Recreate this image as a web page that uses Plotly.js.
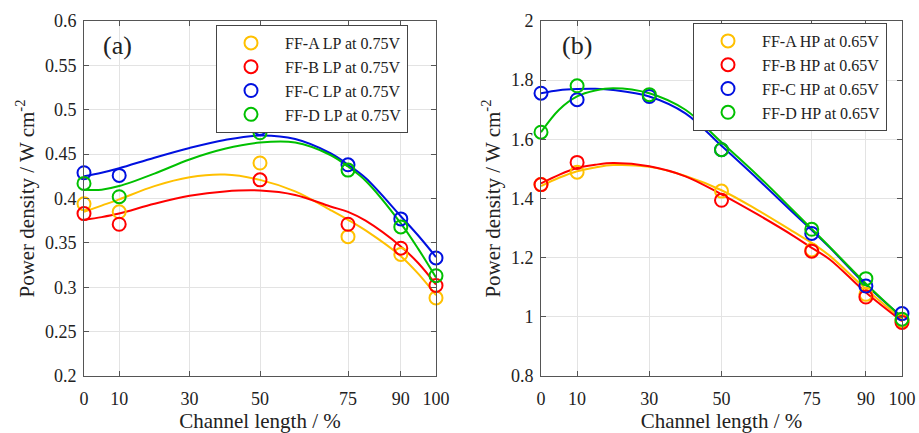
<!DOCTYPE html>
<html>
<head>
<meta charset="utf-8">
<script src="https://cdn.plot.ly/plotly-3.0.1.min.js"></script>
<style>html,body{margin:0;padding:0;background:#fff;}#chart{width:919px;height:433px;}</style>
</head>
<body>
<div id="chart"></div>
<script>
// ---------- data ----------
var xTicks = [0, 10, 30, 50, 75, 90, 100];

// (a) low power at 0.75 V — measured points
var xPtsL = [0, 10, 50, 75, 90, 100];
var aLP = [0.394, 0.385, 0.440, 0.357, 0.337, 0.288];
var bLP = [0.383, 0.371, 0.421, 0.371, 0.344, 0.302];
var cLP = [0.429, 0.426, 0.479, 0.438, 0.377, 0.333];
var dLP = [0.417, 0.402, 0.474, 0.432, 0.368, 0.313];
// (a) fitted curves
var xFitL = [0, 5, 10, 20, 30, 40, 50, 60, 70, 75, 80, 90, 95, 100];
var aFitL = [0.385, 0.392, 0.399, 0.414, 0.424, 0.427, 0.421, 0.408, 0.387, 0.376, 0.364, 0.335, 0.315, 0.291];
var bFitL = [0.376, 0.379, 0.383, 0.394, 0.403, 0.408, 0.409, 0.404, 0.391, 0.385, 0.375, 0.346, 0.327, 0.303];
var cFitL = [0.425, 0.429, 0.434, 0.446, 0.457, 0.466, 0.471, 0.467, 0.451, 0.438, 0.423, 0.380, 0.358, 0.334];
var dFitL = [0.410, 0.410, 0.414, 0.428, 0.444, 0.456, 0.463, 0.463, 0.449, 0.436, 0.420, 0.372, 0.343, 0.311];
var yTicksL = [0.2, 0.25, 0.3, 0.35, 0.4, 0.45, 0.5, 0.55, 0.6];
var yTextL = ["0.2", "0.25", "0.3", "0.35", "0.4", "0.45", "0.5", "0.55", "0.6"];

// (b) high power at 0.65 V — measured points
var xPtsAB = [0, 10, 50, 75, 90, 100];
var xPtsCD = [0, 10, 30, 50, 75, 90, 100];
var aHP = [1.447, 1.489, 1.425, 1.226, 1.076, 0.987];
var bHP = [1.447, 1.522, 1.394, 1.222, 1.067, 0.981];
var cHP = [1.756, 1.734, 1.745, 1.565, 1.282, 1.104, 1.011];
var dHP = [1.624, 1.781, 1.751, 1.565, 1.296, 1.129, 0.992];
// (b) fitted curves
var xFitR = [0, 5, 10, 15, 20, 30, 40, 50, 60, 70, 75, 80, 90, 100];
var aFitR = [1.442, 1.470, 1.492, 1.505, 1.513, 1.507, 1.476, 1.428, 1.361, 1.287, 1.250, 1.206, 1.094, 0.992];
var bFitR = [1.451, 1.480, 1.503, 1.514, 1.520, 1.509, 1.475, 1.414, 1.346, 1.273, 1.233, 1.194, 1.082, 0.985];
var cFitR = [1.756, 1.766, 1.770, 1.771, 1.767, 1.745, 1.688, 1.578, 1.466, 1.350, 1.293, 1.234, 1.108, 1.000];
var dFitR = [1.624, 1.700, 1.745, 1.765, 1.773, 1.756, 1.700, 1.590, 1.478, 1.358, 1.297, 1.236, 1.112, 0.998];
var yTicksR = [0.8, 1.0, 1.2, 1.4, 1.6, 1.8, 2.0];
var yTextR = ["0.8", "1", "1.2", "1.4", "1.6", "1.8", "2"];

var namesL = ["FF-A LP at 0.75V", "FF-B LP at 0.75V", "FF-C LP at 0.75V", "FF-D LP at 0.75V"];
var namesR = ["FF-A HP at 0.65V", "FF-B HP at 0.65V", "FF-C HP at 0.65V", "FF-D HP at 0.65V"];

// ---------- styling ----------
var colors = ["#FFC000", "#FF0000", "#0010E0", "#00C000"];
var FONT = "Liberation Serif, Times New Roman, serif";

function curve(x, y, c, xa, ya) {
  return {x: x, y: y, xaxis: xa, yaxis: ya, mode: "lines", type: "scatter",
    line: {color: c, width: 2, shape: "spline"}, showlegend: false, hoverinfo: "skip",
    cliponaxis: false};
}
function pts(x, y, c, name, xa, ya, lg) {
  return {x: x, y: y, xaxis: xa, yaxis: ya, mode: "markers", type: "scatter", name: name,
    legend: lg, cliponaxis: false,
    marker: {symbol: "circle-open", size: 13, color: c, line: {color: c, width: 2}}};
}

var traces = [
  curve(xFitL, aFitL, colors[0], "x", "y"),
  curve(xFitL, bFitL, colors[1], "x", "y"),
  curve(xFitL, cFitL, colors[2], "x", "y"),
  curve(xFitL, dFitL, colors[3], "x", "y"),
  pts(xPtsL, aLP, colors[0], namesL[0], "x", "y", "legend"),
  pts(xPtsL, bLP, colors[1], namesL[1], "x", "y", "legend"),
  pts(xPtsL, cLP, colors[2], namesL[2], "x", "y", "legend"),
  pts(xPtsL, dLP, colors[3], namesL[3], "x", "y", "legend"),
  curve(xFitR, aFitR, colors[0], "x2", "y2"),
  curve(xFitR, bFitR, colors[1], "x2", "y2"),
  curve(xFitR, cFitR, colors[2], "x2", "y2"),
  curve(xFitR, dFitR, colors[3], "x2", "y2"),
  pts(xPtsAB, aHP, colors[0], namesR[0], "x2", "y2", "legend2"),
  pts(xPtsAB, bHP, colors[1], namesR[1], "x2", "y2", "legend2"),
  pts(xPtsCD, cHP, colors[2], namesR[2], "x2", "y2", "legend2"),
  pts(xPtsCD, dHP, colors[3], namesR[3], "x2", "y2", "legend2")
];

function xax(dom, anchor) {
  return {domain: dom, anchor: anchor, range: [0, 100], tickvals: xTicks,
    automargin: false,
    showline: true, linecolor: "#555", linewidth: 1, mirror: "ticks",
    ticks: "inside", ticklen: 5, tickcolor: "#555", ticklabelstandoff: 6,
    showgrid: true, gridcolor: "#e3e3e3", gridwidth: 1, zeroline: false,
    tickfont: {family: FONT, size: 18, color: "#222"},
    title: {text: "Channel length / %", font: {family: FONT, size: 21, color: "#222"}, standoff: 8}};
}
function yax(dom, anchor, rng, tv, tt) {
  return {domain: dom, anchor: anchor, range: rng, tickvals: tv, ticktext: tt,
    automargin: false,
    showline: true, linecolor: "#555", linewidth: 1, mirror: "ticks",
    ticks: "inside", ticklen: 5, tickcolor: "#555", ticklabelstandoff: 3,
    showgrid: true, gridcolor: "#e3e3e3", gridwidth: 1, zeroline: false,
    tickfont: {family: FONT, size: 18, color: "#222"},
    title: {text: "Power density / W cm<sup>-2</sup>", font: {family: FONT, size: 21, color: "#222"}, standoff: 4}};
}

// plot area: x 84..902, y 21..376
var PW = 818, PH = 355;
var legendCommon = {xanchor: "left", yanchor: "top", bgcolor: "#ffffff",
  bordercolor: "#444", borderwidth: 1, font: {family: FONT, size: 16, color: "#222"},
  itemwidth: 58, tracegroupgap: 0};

var layout = {
  width: 919, height: 433,
  margin: {l: 84, r: 17, t: 21, b: 57, pad: 0, autoexpand: false},
  paper_bgcolor: "#ffffff", plot_bgcolor: "#ffffff",
  font: {family: FONT},
  xaxis: xax([0, 352 / PW], "y"),
  yaxis: yax([0, 1], "x", [0.2, 0.6], yTicksL, yTextL),
  xaxis2: xax([457 / PW, 1], "y2"),
  yaxis2: yax([0, 1], "x2", [0.8, 2.0], yTicksR, yTextR),
  legend: Object.assign({x: (216 - 84) / PW, y: (376 - 25) / PH}, legendCommon),
  legend2: Object.assign({x: (693 - 84) / PW, y: (376 - 23) / PH}, legendCommon),
  annotations: [
    {text: "(a)", xref: "paper", yref: "paper", x: (117 - 84) / PW, y: (376 - 45) / PH,
      xanchor: "center", yanchor: "middle", showarrow: false,
      font: {family: FONT, size: 26, color: "#222"}},
    {text: "(b)", xref: "paper", yref: "paper", x: (577 - 84) / PW, y: (376 - 45) / PH,
      xanchor: "center", yanchor: "middle", showarrow: false,
      font: {family: FONT, size: 26, color: "#222"}}
  ],
  showlegend: true
};

Plotly.newPlot("chart", traces, layout, {displayModeBar: false, staticPlot: true});
</script>
</body>
</html>
